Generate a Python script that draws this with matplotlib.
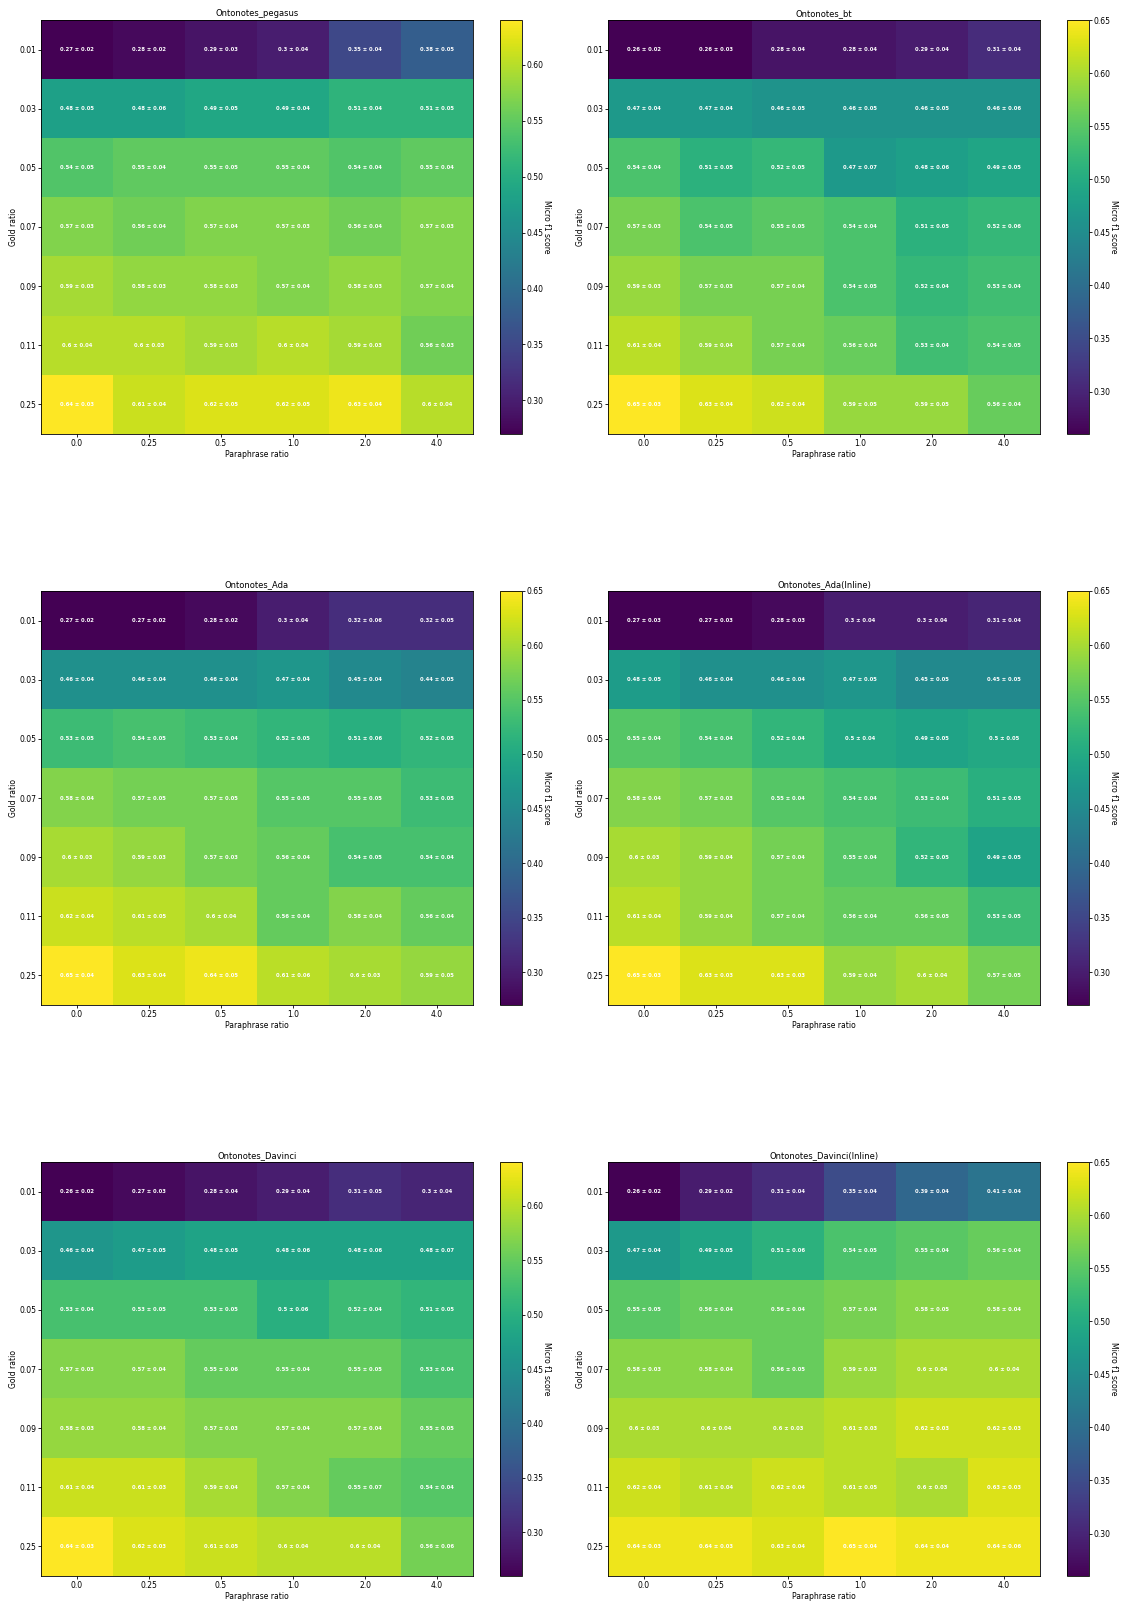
import numpy as np
import matplotlib
matplotlib.use("Agg")
import matplotlib.pyplot as plt

gold_ratios = ["0.01", "0.03", "0.05", "0.07", "0.09", "0.11", "0.25"]
para_ratios = ["0.0", "0.25", "0.5", "1.0", "2.0", "4.0"]

pegasus_mean = [
    [0.27, 0.28, 0.29, 0.30, 0.35, 0.38],
    [0.48, 0.48, 0.49, 0.49, 0.51, 0.51],
    [0.54, 0.55, 0.55, 0.55, 0.54, 0.55],
    [0.57, 0.56, 0.57, 0.57, 0.56, 0.57],
    [0.59, 0.58, 0.58, 0.57, 0.58, 0.57],
    [0.60, 0.60, 0.59, 0.60, 0.59, 0.56],
    [0.64, 0.61, 0.62, 0.62, 0.63, 0.60],
]
pegasus_std = [
    [0.02, 0.02, 0.03, 0.04, 0.04, 0.05],
    [0.05, 0.06, 0.05, 0.04, 0.04, 0.05],
    [0.05, 0.04, 0.05, 0.04, 0.04, 0.04],
    [0.03, 0.04, 0.04, 0.03, 0.04, 0.03],
    [0.03, 0.03, 0.03, 0.04, 0.03, 0.04],
    [0.04, 0.03, 0.03, 0.04, 0.03, 0.03],
    [0.03, 0.04, 0.05, 0.05, 0.04, 0.04],
]

bt_mean = [
    [0.26, 0.26, 0.28, 0.28, 0.29, 0.31],
    [0.47, 0.47, 0.46, 0.46, 0.46, 0.46],
    [0.54, 0.51, 0.52, 0.47, 0.48, 0.49],
    [0.57, 0.54, 0.55, 0.54, 0.51, 0.52],
    [0.59, 0.57, 0.57, 0.54, 0.52, 0.53],
    [0.61, 0.59, 0.57, 0.56, 0.53, 0.54],
    [0.65, 0.63, 0.62, 0.59, 0.59, 0.56],
]
bt_std = [
    [0.02, 0.03, 0.04, 0.04, 0.04, 0.04],
    [0.04, 0.04, 0.05, 0.05, 0.05, 0.06],
    [0.04, 0.05, 0.05, 0.07, 0.06, 0.05],
    [0.03, 0.05, 0.05, 0.04, 0.05, 0.06],
    [0.03, 0.03, 0.04, 0.05, 0.04, 0.04],
    [0.04, 0.04, 0.04, 0.04, 0.04, 0.05],
    [0.03, 0.04, 0.04, 0.05, 0.05, 0.04],
]

ada_mean = [
    [0.27, 0.27, 0.28, 0.30, 0.32, 0.32],
    [0.46, 0.46, 0.46, 0.47, 0.45, 0.44],
    [0.53, 0.54, 0.53, 0.52, 0.51, 0.52],
    [0.58, 0.57, 0.57, 0.55, 0.55, 0.53],
    [0.60, 0.59, 0.57, 0.56, 0.54, 0.54],
    [0.62, 0.61, 0.60, 0.56, 0.58, 0.56],
    [0.65, 0.63, 0.64, 0.61, 0.60, 0.59],
]
ada_std = [
    [0.02, 0.02, 0.02, 0.04, 0.06, 0.05],
    [0.04, 0.04, 0.04, 0.04, 0.04, 0.05],
    [0.05, 0.05, 0.04, 0.05, 0.06, 0.05],
    [0.04, 0.05, 0.05, 0.05, 0.05, 0.05],
    [0.03, 0.03, 0.03, 0.04, 0.05, 0.04],
    [0.04, 0.05, 0.04, 0.04, 0.04, 0.04],
    [0.04, 0.04, 0.05, 0.06, 0.03, 0.05],
]

ada_inline_mean = [
    [0.27, 0.27, 0.28, 0.30, 0.30, 0.31],
    [0.48, 0.46, 0.46, 0.47, 0.45, 0.45],
    [0.55, 0.54, 0.52, 0.50, 0.49, 0.50],
    [0.58, 0.57, 0.55, 0.54, 0.53, 0.51],
    [0.60, 0.59, 0.57, 0.55, 0.52, 0.49],
    [0.61, 0.59, 0.57, 0.56, 0.56, 0.53],
    [0.65, 0.63, 0.63, 0.59, 0.60, 0.57],
]
ada_inline_std = [
    [0.03, 0.03, 0.03, 0.04, 0.04, 0.04],
    [0.05, 0.04, 0.04, 0.05, 0.05, 0.05],
    [0.04, 0.04, 0.04, 0.04, 0.05, 0.05],
    [0.04, 0.03, 0.04, 0.04, 0.04, 0.05],
    [0.03, 0.04, 0.04, 0.04, 0.05, 0.05],
    [0.04, 0.04, 0.04, 0.04, 0.05, 0.05],
    [0.03, 0.03, 0.03, 0.04, 0.04, 0.05],
]

davinci_mean = [
    [0.26, 0.27, 0.28, 0.29, 0.31, 0.30],
    [0.46, 0.47, 0.48, 0.48, 0.48, 0.48],
    [0.53, 0.53, 0.53, 0.50, 0.52, 0.51],
    [0.57, 0.57, 0.55, 0.55, 0.55, 0.53],
    [0.58, 0.58, 0.57, 0.57, 0.57, 0.55],
    [0.61, 0.61, 0.59, 0.57, 0.55, 0.54],
    [0.64, 0.62, 0.61, 0.60, 0.60, 0.56],
]
davinci_std = [
    [0.02, 0.03, 0.04, 0.04, 0.05, 0.04],
    [0.04, 0.05, 0.05, 0.06, 0.06, 0.07],
    [0.04, 0.05, 0.05, 0.06, 0.04, 0.05],
    [0.03, 0.04, 0.06, 0.04, 0.05, 0.04],
    [0.03, 0.04, 0.03, 0.04, 0.04, 0.05],
    [0.04, 0.03, 0.04, 0.04, 0.07, 0.04],
    [0.03, 0.03, 0.05, 0.04, 0.04, 0.06],
]

davinci_inline_mean = [
    [0.26, 0.29, 0.31, 0.35, 0.39, 0.41],
    [0.47, 0.49, 0.51, 0.54, 0.55, 0.56],
    [0.55, 0.56, 0.56, 0.57, 0.58, 0.58],
    [0.58, 0.58, 0.56, 0.59, 0.60, 0.60],
    [0.60, 0.60, 0.60, 0.61, 0.62, 0.62],
    [0.62, 0.61, 0.62, 0.61, 0.60, 0.63],
    [0.64, 0.64, 0.63, 0.65, 0.64, 0.64],
]
davinci_inline_std = [
    [0.02, 0.02, 0.04, 0.04, 0.04, 0.04],
    [0.04, 0.05, 0.06, 0.05, 0.04, 0.04],
    [0.05, 0.04, 0.04, 0.04, 0.05, 0.04],
    [0.03, 0.04, 0.05, 0.03, 0.04, 0.04],
    [0.03, 0.04, 0.03, 0.03, 0.03, 0.03],
    [0.04, 0.04, 0.04, 0.05, 0.03, 0.03],
    [0.03, 0.03, 0.04, 0.04, 0.04, 0.06],
]

panels = [
    ("Ontonotes_pegasus", pegasus_mean, pegasus_std),
    ("Ontonotes_bt", bt_mean, bt_std),
    ("Ontonotes_Ada", ada_mean, ada_std),
    ("Ontonotes_Ada(Inline)", ada_inline_mean, ada_inline_std),
    ("Ontonotes_Davinci", davinci_mean, davinci_std),
    ("Ontonotes_Davinci(Inline)", davinci_inline_mean, davinci_inline_std),
]

W, H = 1127, 1601
fig = plt.figure(figsize=(W / 100, H / 100), dpi=100)

# pixel boxes: (left, top) of each heatmap, colorbar offset
col_x = [41, 608]
row_y = [20, 591, 1162]
ax_w, ax_h = 432, 414
cb_off, cb_w = 459, 22
fs = 5.5


def frac_box(x, y, w, h):
    return [x / W, 1 - (y + h) / H, w / W, h / H]


for k, (title, mean, std) in enumerate(panels):
    r, c = divmod(k, 2)
    x0, y0 = col_x[c], row_y[r]
    ax = fig.add_axes(frac_box(x0, y0, ax_w, ax_h))
    cax = fig.add_axes(frac_box(x0 + cb_off, y0, cb_w, ax_h))

    m = np.array(mean)
    s = np.array(std)
    im = ax.imshow(m, cmap="viridis", aspect="auto")
    for i in range(m.shape[0]):
        for j in range(m.shape[1]):
            ax.text(j, i, f"{round(m[i, j], 2)} ± {round(s[i, j], 2)}",
                    ha="center", va="center", color="white",
                    fontsize=3.8, fontweight="bold")

    ax.set_xticks(range(len(para_ratios)))
    ax.set_xticklabels(para_ratios, fontsize=fs)
    ax.set_yticks(range(len(gold_ratios)))
    ax.set_yticklabels(gold_ratios, fontsize=fs)
    ax.set_xlabel("Paraphrase ratio", fontsize=fs, labelpad=1.5)
    ax.set_ylabel("Gold ratio", fontsize=fs, labelpad=0.5)
    ax.set_title(title, fontsize=6, pad=3)
    ax.tick_params(length=2, pad=1.5, width=0.6)
    for sp in ax.spines.values():
        sp.set_linewidth(0.6)

    cb = fig.colorbar(im, cax=cax)
    cb.ax.tick_params(labelsize=fs, length=2, pad=1.5, width=0.6)
    cb.outline.set_linewidth(0.6)
    cb.set_label("Micro f1 score", rotation=270, fontsize=fs, labelpad=5)

fig.savefig("out.png", dpi=100)
